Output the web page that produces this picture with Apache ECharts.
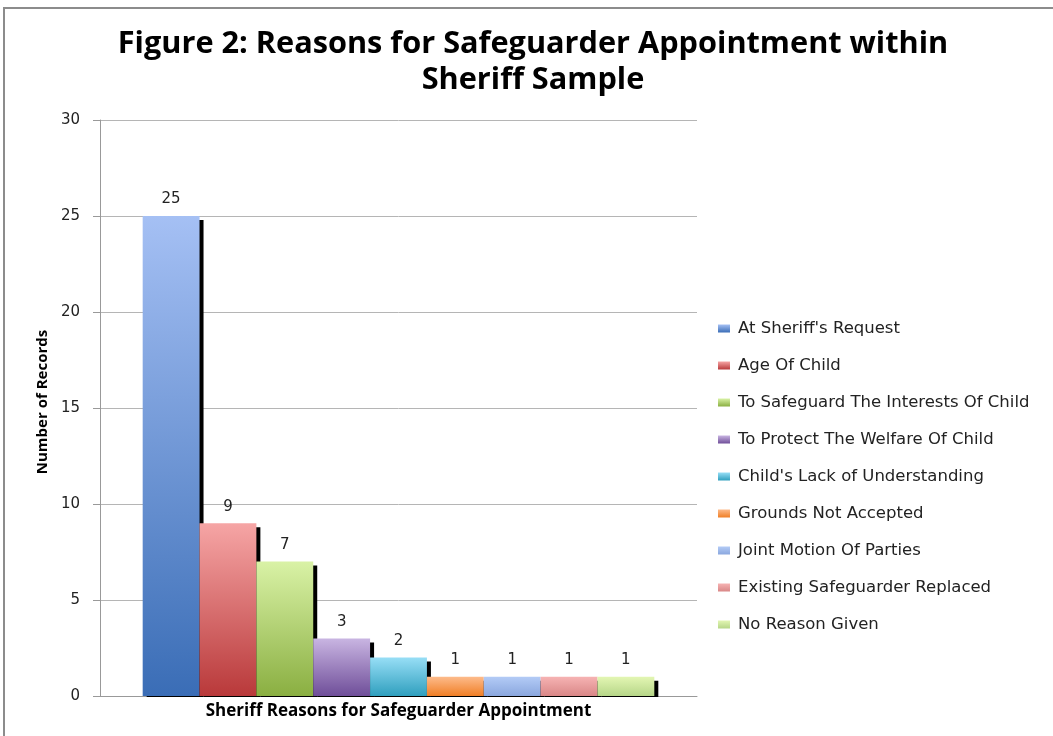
<!DOCTYPE html>
<html>
<head>
<meta charset="utf-8">
<title>Figure 2</title>
<script src="https://cdn.jsdelivr.net/npm/echarts@6/dist/echarts.min.js"></script>
<style>
  html, body { margin: 0; padding: 0; background: #fff; }
  #wrap { position: relative; width: 1053px; height: 736px; overflow: hidden; }
  #frame { position: absolute; left: 3px; top: 7px; width: 1100px; height: 800px;
           border-left: 2px solid #8c8c8c; border-top: 2px solid #8c8c8c; }
  #chart { position: absolute; left: 0; top: 0; width: 1053px; height: 736px; }
</style>
</head>
<body>
<div id="wrap">
  <div id="frame"></div>
  <div id="chart"></div>
</div>
<script>
  // reasons and counts
  var reasons = [
    "At Sheriff's Request",
    'Age Of Child',
    'To Safeguard The Interests Of Child',
    'To Protect The Welfare Of Child',
    "Child's Lack of Understanding",
    'Grounds Not Accepted',
    'Joint Motion Of Parties',
    'Existing Safeguarder Replaced',
    'No Reason Given'
  ];
  var counts = [25, 9, 7, 3, 2, 1, 1, 1, 1];

  // top / bottom of each bar gradient
  var topColors = ['#a5c0f4', '#f6a5a5', '#d9f2a6', '#c9b5e2', '#97def6', '#fdbb8b', '#b3cbf6', '#f6b3b3', '#e3f6b3'];
  var bottomColors = ['#3a6db6', '#b9393a', '#8aaf41', '#6f4e99', '#2f9fbe', '#f07f26', '#8aa7de', '#d98787', '#b6d688'];

  var gridBox = { left: 100, top: 120, right: 356, bottom: 40 };
  var chartW = 1053, chartH = 736;

  var chart = echarts.init(document.getElementById('chart'));

  var series = reasons.map(function (name, i) {
    return {
      name: name,
      type: 'bar',
      barGap: '0%',
      barCategoryGap: '14.3%',
      data: [counts[i]],
      itemStyle: {
        color: new echarts.graphic.LinearGradient(0, 0, 0, 1, [
          { offset: 0, color: topColors[i] },
          { offset: 1, color: bottomColors[i] }
        ]),
        shadowColor: '#000',
        shadowBlur: 0,
        shadowOffsetX: 4,
        shadowOffsetY: 4
      },
      label: {
        show: true,
        position: 'top',
        distance: 9,
        color: '#222',
        fontSize: 15,
        fontFamily: 'DejaVu Sans'
      }
    };
  });

  var option = {
    animation: false,
    title: {
      text: 'Figure 2: Reasons for Safeguarder Appointment within\nSheriff Sample',
      left: 528,
      textAlign: 'center',
      top: 21,
      textStyle: {
        fontFamily: 'Open Sans',
        fontWeight: 'bold',
        fontSize: 30.7,
        lineHeight: 36,
        color: '#000'
      }
    },
    legend: {
      orient: 'vertical',
      left: 713,
      top: 315,
      itemWidth: 12,
      itemHeight: 8,
      itemGap: 20,
      icon: 'rect',
      data: reasons,
      textStyle: { fontFamily: 'DejaVu Sans', fontSize: 16.5, color: '#222', padding: [0, 0, 0, 3] }
    },
    grid: gridBox,
    // white strip hides the shadow spill under the baseline
    graphic: [{
      type: 'rect',
      z: 100,
      shape: { x: gridBox.left, y: chartH - gridBox.bottom + 1, width: chartW - gridBox.left - gridBox.right + 10, height: 5 },
      style: { fill: '#fff' }
    }],
    xAxis: {
      type: 'category',
      data: [''],
      name: 'Sheriff Reasons for Safeguarder Appointment',
      nameLocation: 'middle',
      nameGap: 7,
      nameTextStyle: { fontFamily: 'Open Sans', fontWeight: 'bold', fontSize: 17, color: '#000' },
      axisLine: { lineStyle: { color: '#999' } },
      axisTick: { show: false },
      axisLabel: { show: false }
    },
    yAxis: {
      type: 'value',
      min: 0,
      max: 30,
      interval: 5,
      name: 'Number of Records',
      nameLocation: 'middle',
      nameGap: 45,
      nameTextStyle: { fontFamily: 'Open Sans', fontWeight: 'bold', fontSize: 15, color: '#000', padding: [0, 0, 0, 12] },
      axisLine: { show: true, lineStyle: { color: '#999' } },
      axisTick: { show: true, length: 7, lineStyle: { color: '#999' } },
      axisLabel: { fontFamily: 'DejaVu Sans', fontSize: 15, color: '#222', margin: 20 },
      splitLine: { lineStyle: { color: '#b5b5b5' } }
    },
    series: series
  };

  chart.setOption(option);
</script>
</body>
</html>
